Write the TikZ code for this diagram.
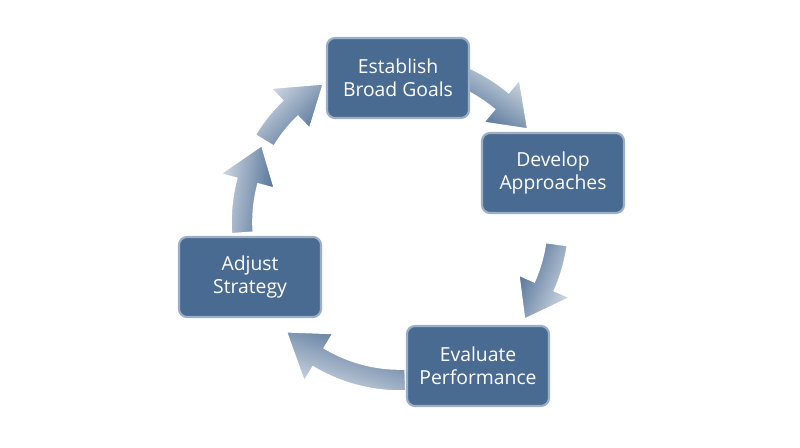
\documentclass[tikz,border=0pt]{standalone}
\usepackage{fontspec}
\setmainfont{Open Sans}
\definecolor{boxfill}{HTML}{4A6B91}
\definecolor{boxline}{HTML}{9AB0C8}
\definecolor{headc}{HTML}{4E6F95}
\definecolor{tailc}{HTML}{D3DAE4}
\begin{document}
\begin{tikzpicture}[x=0.75pt,y=-0.75pt,
  box/.style={draw=boxline,line width=1.6pt,fill=boxfill,rounded corners=6pt,
    minimum width=106.5pt,minimum height=60pt,text=white,align=center,
    font=\fontsize{14.5}{17.5}\selectfont,inner sep=2pt},
  band/.style={draw=white,line width=1.2pt}]
\useasboundingbox (0,0) rectangle (800,447);
\fill[white] (0,0) rectangle (800,447);
\newcommand{\cyc}[4]{% tail angle, head base angle, tip angle, shading angle
  \shade[band,left color=tailc,right color=headc,shading angle=#4]
    plot[domain=#1:#2,samples=25] (\x:169) -- (#2:186) -- (#3:158) -- (#2:130) --
    plot[domain=#2:#1,samples=25] (\x:147) -- cycle;}
\begin{scope}[shift={(400,222)}]
\cyc{-66}{-50}{-36}{-32}
\cyc{8}{24}{38}{-113}
\cyc{88}{121}{136}{162}
\cyc{176}{195}{209}{83}
\cyc{211}{226}{241}{46}
\end{scope}
\node[box] (e) at (398,78) {Establish\\Broad Goals};
\node[box] (d) at (553,173) {Develop\\Approaches};
\node[box] (v) at (478,366) {Evaluate\\Performance};
\node[box] (a) at (250,277) {Adjust\\Strategy};
\end{tikzpicture}
\end{document}
